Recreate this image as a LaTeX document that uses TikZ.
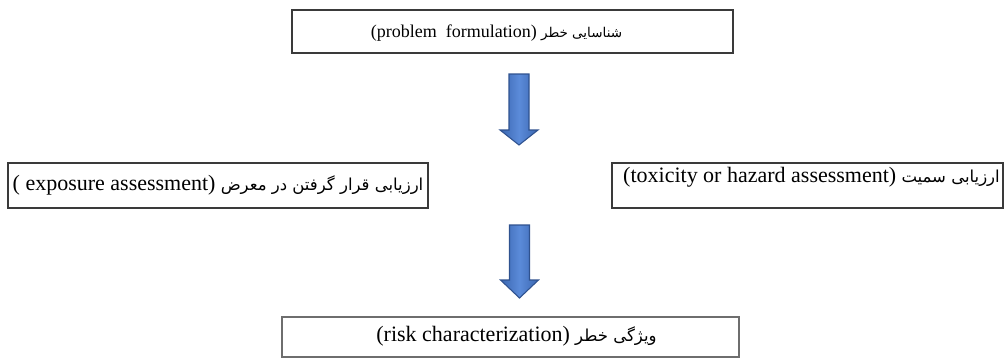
\documentclass[tikz,border=0pt]{standalone}
\usepackage{fontspec}
\setmainfont{Liberation Serif}
\newfontfamily\arabicfont[Script=Arabic,Scale=0.75]{DejaVu Sans}
\TeXXeTstate=1
\usepackage{xcolor}
\definecolor{BoxRule}{HTML}{3A3A3A}
\definecolor{BoxRuleLight}{HTML}{6E6E6E}
\definecolor{ArrowDark}{HTML}{2F528F}
\definecolor{ArrowMid}{HTML}{5B8BD9}
\definecolor{ArrowEdge}{HTML}{3A66B0}
\usetikzlibrary{calc,positioning}

\newcommand{\latin}[1]{\beginL{\normalfont #1}\endL}

\tikzset{
  stagebox/.style={rectangle,draw=BoxRule,line width=0.8pt,inner xsep=2pt,
                   inner ysep=0pt,font=\fontsize{16.5}{18}\selectfont},
  blockarrow/.style={draw=ArrowDark,line width=0.8pt,line join=miter,
                     left color=ArrowEdge,right color=ArrowEdge,middle color=ArrowMid}
}

\begin{document}
\begin{tikzpicture}[x=0.75pt,y=-0.75pt]
  \useasboundingbox (0,0) rectangle (1008,358);

  % stages
  \node[stagebox,font=\fontsize{13.5}{15}\selectfont,minimum width=441*0.75pt,
        minimum height=43*0.75pt,text height=10pt,text depth=1.3pt]
    (formulation) at (512.5,31.5)
    {{\arabicfont\beginR شناسایی خطر \latin{(problem\ \ formulation)}\endR}\hspace*{24pt}};
  \node[stagebox,minimum width=420*0.75pt,minimum height=45*0.75pt,
        text height=12pt,text depth=5pt]
    (exposure) at (218,185.5)
    {\arabicfont\beginR ارزیابی قرار گرفتن در معرض \latin{( exposure assessment)}\endR};
  \node[stagebox,minimum width=391*0.75pt,minimum height=45*0.75pt,
        text height=12pt,text depth=16pt]
    (toxicity) at (807.5,185.5)
    {\hspace*{6pt}{\arabicfont\beginR ارزیابی سمیت \latin{(toxicity or hazard assessment)}\endR}};
  \node[stagebox,draw=BoxRuleLight,minimum width=457*0.75pt,minimum height=40*0.75pt,
        text height=12pt,text depth=5pt]
    (characterization) at (510.5,337)
    {\hspace*{9pt}{\arabicfont\beginR ویژگی خطر \latin{(risk characterization)}\endR}};

  % block arrows
  \coordinate (top1) at (519,74);
  \coordinate (tip1) at (519,145);
  \coordinate (top2) at (519.5,225);
  \coordinate (tip2) at (519.5,298);
  \draw[blockarrow] ($(top1)+(-10,0)$) -- ($(top1)+(10,0)$) -- ($(tip1)+(10,-15)$)
    -- ($(tip1)+(19,-15)$) -- (tip1) -- ($(tip1)+(-19,-15)$) -- ($(tip1)+(-10,-15)$) -- cycle;
  \draw[blockarrow] ($(top2)+(-10,0)$) -- ($(top2)+(10,0)$) -- ($(tip2)+(10,-18)$)
    -- ($(tip2)+(19,-18)$) -- (tip2) -- ($(tip2)+(-19,-18)$) -- ($(tip2)+(-10,-18)$) -- cycle;
\end{tikzpicture}
\end{document}
